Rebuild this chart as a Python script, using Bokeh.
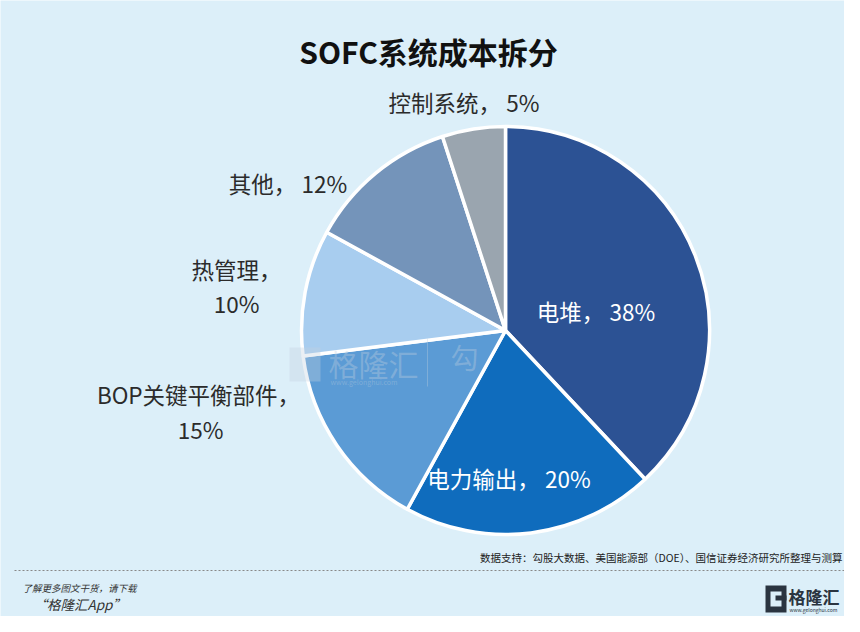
from bokeh.plotting import figure
from bokeh.models import Range1d, ColumnDataSource
from bokeh.embed import file_html
from bokeh.resources import INLINE
from bokeh.core.properties import value
import math

# ---- data ----
categories = ["电堆", "电力输出", "BOP关键平衡部件", "热管理", "其他", "控制系统"]
shares = [38, 20, 15, 10, 12, 5]
colors = ["#2C5294", "#0F6CBD", "#5B9BD5", "#A8CDEF", "#7494BA", "#9AA5AF"]

title_text = "SOFC系统成本拆分"
source_text = "数据支持：勾股大数据、美国能源部（DOE）、国信证券经济研究所整理与测算"

W, H = 844, 616
BG = "#DCEFF9"
FONT = "Noto Sans CJK SC"

def Y(sy):
    return 632 - sy

p = figure(width=W, height=H, output_backend="svg", toolbar_location=None,
           x_range=Range1d(0, 844), y_range=Range1d(16, 632),
           min_border=0, background_fill_color=BG, border_fill_color=BG)
p.axis.visible = False
p.grid.visible = False
p.outline_line_color = None

# ---- watermark (under pie) ----
p.text(x=[448], y=[Y(356)], text=["勾股"], text_font=value(FONT),
       text_font_size="28px", text_color="#C9D6E2", text_alpha=0.5,
       text_align="left", text_baseline="middle")

# ---- pie ----
total = float(sum(shares))
starts, ends = [], []
cum = 0.0
for s in shares:
    starts.append(math.pi / 2 - 2 * math.pi * cum / total)
    cum += s
    ends.append(math.pi / 2 - 2 * math.pi * cum / total)

src = ColumnDataSource(dict(cat=categories, share=shares, color=colors,
                            start=starts, end=ends))
cx, cy, R = 505, Y(330), 204
p.wedge(x=cx, y=cy, radius=R, start_angle="start", end_angle="end",
        direction="clock", fill_color="color", line_color="white",
        line_width=3.5, source=src)

# ---- watermark (over pie) ----
p.quad(left=[289], right=[320], bottom=[Y(381)], top=[Y(347)],
       fill_color="#C4D2DF", fill_alpha=0.35, line_color=None)
p.text(x=[328], y=[Y(362)], text=["格隆汇"], text_font=value(FONT),
       text_font_size="30px", text_color="#C4D2DF", text_alpha=0.35,
       text_align="left", text_baseline="middle")
p.segment(x0=[427], y0=[Y(338)], x1=[427], y1=[Y(386)], line_color="#C4D2DF",
          line_alpha=0.35, line_width=1)
p.text(x=[450], y=[Y(356)], text=["勾"], text_font=value(FONT),
       text_font_size="28px", text_color="#C4D2DF", text_alpha=0.35,
       text_align="left", text_baseline="middle")
p.text(x=[330], y=[Y(381)], text=["www.gelonghui.com"], text_font=value(FONT),
       text_font_size="7px", text_color="#C4D2DF", text_alpha=0.35,
       text_align="left", text_baseline="middle")

# ---- labels ----
def lab(cat_i, tmpl, sx, sy, color="#2b2b2b", align="center", size="22.5px"):
    txt = tmpl.format(c=categories[cat_i], v=shares[cat_i])
    p.text(x=[sx], y=[Y(sy)], text=[txt], text_font=value(FONT),
           text_font_size=size, text_color=color, text_align=align,
           text_baseline="middle")

lab(0, "{c}，  {v}%", 598, 310, color="white")
lab(1, "{c}，  {v}%", 511, 477, color="white")
lab(5, "{c}，  {v}%", 466, 101)
lab(4, "{c}，  {v}%", 290, 182)
lab(3, "{c}，", 236, 268)
lab(3, "{v}%", 236, 302)
lab(2, "{c}，", 198, 393)
lab(2, "{v}%", 200, 428)

# ---- title ----
p.text(x=[428], y=[Y(50)], text=[title_text], text_font=value(FONT),
       text_font_size="30px", text_font_style="bold", text_color="#111111",
       text_align="center", text_baseline="middle")

# ---- source ----
p.text(x=[842], y=[Y(557)], text=[source_text], text_font=value(FONT),
       text_font_size="10.5px", text_color="#222222", text_align="right",
       text_baseline="middle")
p.segment(x0=[14], y0=[Y(570)], x1=[844], y1=[Y(570)], line_color="#888888",
          line_width=1, line_dash="2 2")

# ---- footer ----
p.text(x=[22], y=[Y(587)], text=["了解更多图文干货，请下载"], text_font=value(FONT),
       text_font_size="9.5px", text_font_style="italic", text_color="#333333",
       text_align="left", text_baseline="middle")
p.text(x=[33], y=[Y(603)], text=["“格隆汇App”"], text_font=value(FONT),
       text_font_size="13.5px", text_font_style="italic", text_color="#333333",
       text_align="left", text_baseline="middle")

# logo
p.quad(left=[765], right=[786], bottom=[Y(612)], top=[Y(585)],
       fill_color="#2A3440", line_color=None)
p.quad(left=[770], right=[781], bottom=[Y(606)], top=[Y(591)],
       fill_color=BG, line_color=None)
p.quad(left=[775], right=[786], bottom=[Y(600)], top=[Y(595)],
       fill_color="#2A3440", line_color=None)
p.text(x=[788], y=[Y(596)], text=["格隆汇"], text_font=value(FONT),
       text_font_size="17px", text_font_style="bold", text_color="#2A3440",
       text_align="left", text_baseline="middle")
p.text(x=[789], y=[Y(609)], text=["www.gelonghui.com"], text_font=value(FONT),
       text_font_size="5px", text_color="#2A3440",
       text_align="left", text_baseline="middle")

open("out.html", "w").write(file_html(p, INLINE))
